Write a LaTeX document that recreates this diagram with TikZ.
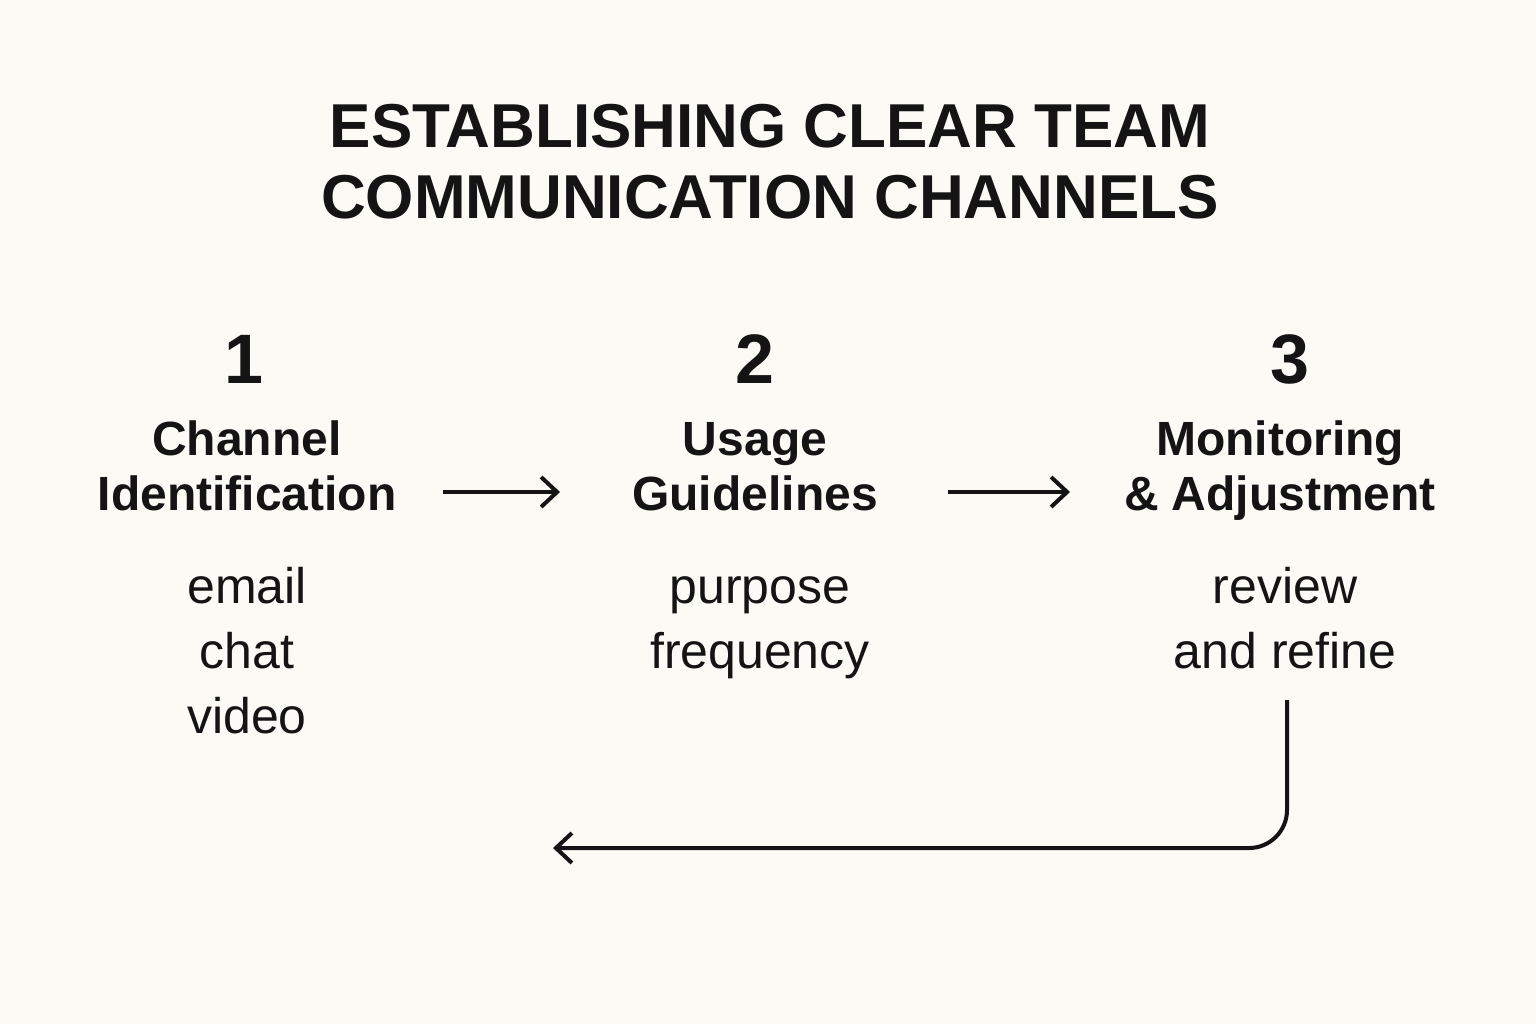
\documentclass[tikz,border=0pt]{standalone}
\usepackage{fontspec}
\setmainfont{Liberation Sans}
\usetikzlibrary{arrows.meta}
\definecolor{paper}{HTML}{FCFAF5}
\definecolor{ink}{HTML}{141414}

\begin{document}
\begin{tikzpicture}
  [
    x=0.5pt, y=-0.5pt,
    title/.style={anchor=base, align=center, inner sep=0pt, text=ink,
      font=\fontsize{31}{35.5}\selectfont\bfseries},
    number/.style={anchor=base, inner sep=0pt, text=ink,
      font=\fontsize{35}{40}\selectfont\bfseries},
    heading/.style={anchor=base, align=center, inner sep=0pt, text=ink,
      font=\fontsize{24}{27.5}\selectfont\bfseries},
    detail/.style={anchor=base, align=center, inner sep=0pt, text=ink,
      font=\fontsize{25}{32.5}\selectfont},
    flow/.style={line width=2pt, draw=ink, -{Straight Barb[length=8pt,width=15pt]}}
  ]
  \useasboundingbox (0,0) rectangle (1536,1024);
  \fill[paper] (0,0) rectangle (1536,1024);
  % title (base = last line)
  \node[title] (title) at (770,218) {ESTABLISHING CLEAR TEAM\\COMMUNICATION CHANNELS};
  % step 1
  \node[number] (num1) at (244,383) {1};
  \node[heading] (head1) at (247,510) {Channel\\Identification};
  \node[detail] (detail1) at (247,733) {email\\chat\\video};
  % step 2
  \node[number] (num2) at (755,383) {2};
  \node[heading] (head2) at (755,510) {Usage\\Guidelines};
  \node[detail] (detail2) at (760,668) {purpose\\frequency};
  % step 3
  \node[number] (num3) at (1290,383) {3};
  \node[heading] (head3) at (1280,510) {Monitoring\\\& Adjustment};
  \node[detail] (detail3) at (1285,668) {review\\and refine};
  % arrow ends
  \coordinate (flow1s) at (443,492);
  \coordinate (flow1e) at (560,492);
  \coordinate (flow2s) at (948,492);
  \coordinate (flow2e) at (1070,492);
  \coordinate (backs) at (1287,700);
  \coordinate (backe) at (553,848);
  % arrows
  \draw[flow] (flow1s) -- (flow1e);
  \draw[flow] (flow2s) -- (flow2e);
  \draw[flow, rounded corners=19pt] (backs) |- (backe);
\end{tikzpicture}
\end{document}
